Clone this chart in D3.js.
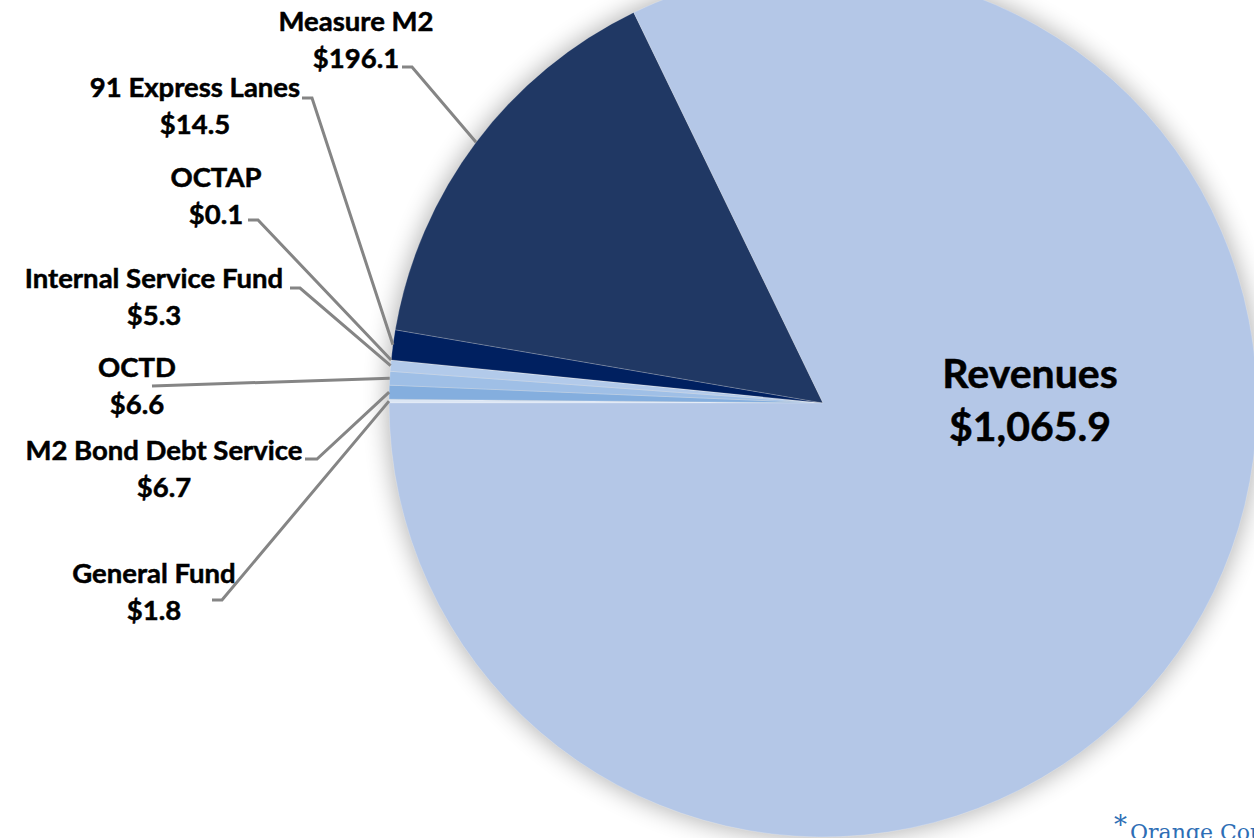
<!DOCTYPE html>
<html>
<head>
<meta charset="utf-8">
<script src="https://cdn.jsdelivr.net/npm/d3@7"></script>
<style>
  html, body { margin: 0; padding: 0; background: #fff; overflow: hidden; }
  svg { display: block; }
  .lbl { font-family: Lato, "Open Sans", sans-serif; font-weight: bold; fill: #000;
         stroke: #000; stroke-width: 0.5px; }
</style>
</head>
<body>
<div id="chart"></div>
<script>
// data, in slice order (clockwise from 9 o'clock)
var categories = ["General Fund", "M2 Bond Debt Service", "OCTD", "Internal Service Fund",
                  "OCTAP", "91 Express Lanes", "Measure M2", "Revenues"];
var values = [1.8, 6.7, 6.6, 5.3, 0.1, 14.5, 196.1, 1065.9];

// styling
var colors = ["#dce6f4", "#84aede", "#9fbfe6", "#b2caea", "#bdd7ee", "#002060", "#203864", "#b4c7e7"];

// label layout: text centre x, first baseline y, leader start and hook length
var labelPos = [
    { x: 154, y: 583, lx: 212, ly: 600, hook: 10 },
    { x: 164, y: 460, lx: 305, ly: 459, hook: 12 },
    { x: 137, y: 377, lx: 152, ly: 386, hook: 0 },
    { x: 154, y: 288, lx: 290, ly: 288, hook: 10 },
    { x: 216, y: 187, lx: 248, ly: 220, hook: 10 },
    { x: 195, y: 97,  lx: 302, ly: 98,  hook: 10 },
    { x: 356, y: 31,  lx: 402, ly: 67,  hook: 10 },
    { x: 1030, y: 388 }
];

var width = 1254, height = 838;
var cx = 823, cy = 403, radius = 434;

var fmt = d3.format("$,.1f");

var svg = d3.select("#chart").append("svg")
    .attr("width", width)
    .attr("height", height);

var defs = svg.append("defs");
defs.append("filter")
    .attr("id", "glow")
    .attr("x", "-20%").attr("y", "-20%")
    .attr("width", "140%").attr("height", "140%")
    .append("feGaussianBlur")
    .attr("stdDeviation", 12);

var data = categories.map(function (c, i) { return { name: c, value: values[i] }; });

var pie = d3.pie()
    .sort(null)
    .value(function (d) { return d.value; })
    .startAngle(-Math.PI / 2)
    .endAngle(1.5 * Math.PI);

var arcs = pie(data);

var arc = d3.arc().innerRadius(0).outerRadius(radius);
var edgeArc = d3.arc().innerRadius(radius).outerRadius(radius);

var g = svg.append("g")
    .attr("transform", "translate(" + cx + "," + cy + ")");

// soft shadow round the pie
g.append("circle")
    .attr("r", radius + 2)
    .attr("fill", "#000")
    .attr("opacity", 0.3)
    .attr("filter", "url(#glow)");

g.selectAll(".slice")
    .data(arcs)
    .enter().append("path")
    .attr("class", "slice")
    .attr("d", arc)
    .attr("fill", function (d, i) { return colors[i]; })
    .attr("stroke", "#ffffff")
    .attr("stroke-opacity", 0.35)
    .attr("stroke-width", 0.6);

// leader lines
var leaders = arcs.filter(function (d) { return d.data.name !== "Revenues"; });

svg.selectAll(".leader")
    .data(leaders)
    .enter().append("polyline")
    .attr("class", "leader")
    .attr("fill", "none")
    .attr("stroke", "#858585")
    .attr("stroke-width", 3)
    .attr("points", function (d) {
        var i = categories.indexOf(d.data.name);
        var p = labelPos[i];
        var e = edgeArc.centroid(d);
        return [[p.lx, p.ly], [p.lx + p.hook, p.ly], [cx + e[0], cy + e[1]]].join(" ");
    });

// labels
var labels = svg.selectAll(".lbl")
    .data(arcs)
    .enter().append("text")
    .attr("class", "lbl")
    .attr("text-anchor", "middle")
    .style("font-size", function (d) { return d.data.name === "Revenues" ? "41px" : "27.5px"; });

labels.append("tspan")
    .attr("x", function (d, i) { return labelPos[i].x; })
    .attr("y", function (d, i) { return labelPos[i].y; })
    .text(function (d) { return d.data.name; });

labels.append("tspan")
    .attr("x", function (d, i) { return labelPos[i].x; })
    .attr("y", function (d, i) { return labelPos[i].y + (d.data.name === "Revenues" ? 53 : 36.5); })
    .text(function (d) { return fmt(d.data.value); });

// footnote, cut by the frame as in the source
var note = svg.append("text")
    .attr("x", 1114)
    .attr("y", 840)
    .attr("fill", "#2e6eb5")
    .style("font-family", "'DejaVu Serif', 'Liberation Serif', serif")
    .style("font-size", "22px");
note.append("tspan").attr("dy", -6).style("font-size", "26px").text("*");
note.append("tspan").attr("dy", 6).attr("dx", 3).text("Orange County");
</script>
</body>
</html>
